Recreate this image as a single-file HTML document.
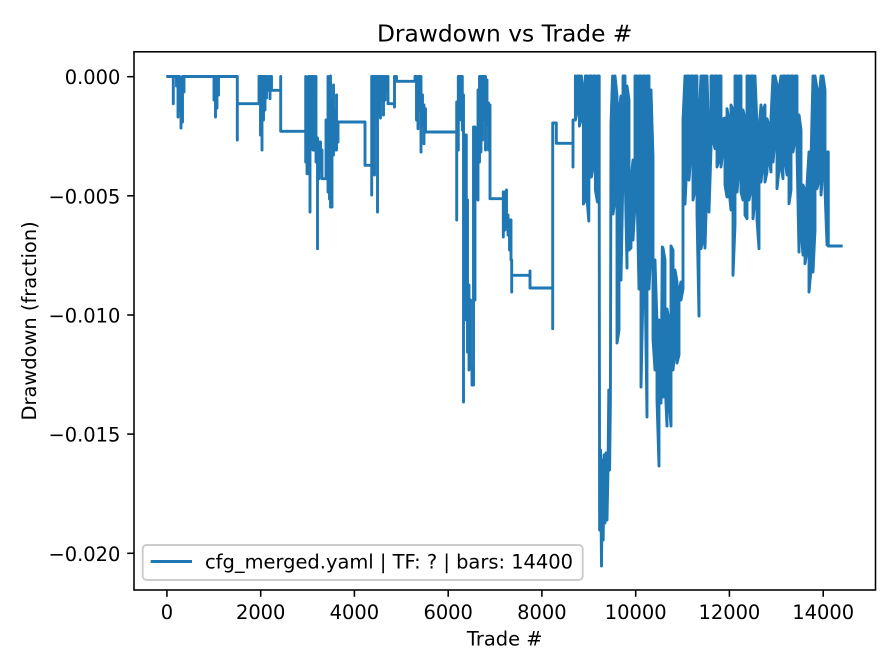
<!DOCTYPE html>
<html>
<head>
<meta charset="utf-8">
<style>
  html, body { margin: 0; padding: 0; background: #ffffff; }
  svg { display: block; }
  text { font-family: "DejaVu Sans", "Liberation Sans", sans-serif; fill: #000; }
</style>
</head>
<body>
<svg width="896" height="672" viewBox="0 0 896 672" xmlns="http://www.w3.org/2000/svg">
  <rect x="0" y="0" width="896" height="672" fill="#ffffff"/>

  <!-- data series -->
  <path fill="none" stroke="#1f77b4" stroke-width="2.9" stroke-linejoin="round" stroke-linecap="butt"
    d="M166.3,76.5 H173.3 V103.7 V76.5 H176.5 V86 V76.5 H178 V117 V76.5 H179.5 V110 V78 H181 V128 V80 H182.5 V122 V76.5 H184 V92 V76.5 H214 V100 V76.5 H215.5 V117 V78 H217 V108 V76.5 H218.5 V95 V76.5 H237.3 V140 V103.7 H259 V76.5 H260.5 V135 V76.5 H262 V150 V85 H263.5 V120 V76.5 H265 V110 V76.5 H266.5 V98 V90.3 H268.5 V76.5 V90.3 H270 V98.7 V76.5 V90.3 H271.5 V76.5 V90.3 H280.7 V76.5 V131.3 H305.7
    V76.5 V162 H307 V153 V173.7 H308.5 V128 V76.5 H310 V212 V125 H311.5 V148 V76.5 H313 V80 V150 H314.5 V132 V76.5 H316 V162 V138 H317.5 V248.7 V142 H319 V178.7 V142 H320.5 V170 V150 H322 V178.7 H326 V120 V178.7 H328 V76.5 V192 H329.5 V100 V199 H330.5 V76 V207 H332 V100 V155 H333.5 V85 V140 H335 V110 V150 H336.5 V95 V142 H338 V122 H365 V165.3 H371.7
    V195 V76.5 H373 V142 V76.5 H374.5 V175 V80 H376 V120 V76.5 H377.5 V212 V90 H379 V115 V76.5 H380.5 V118 V76.5 H382 V100 V76.5 H383.5 V115 V80 H385 V100 V76.5 H386.5 V92 V76.5 H388 V103.7 H394.5 V107 V76.5 H396.5 V81.3 H415 V76.5 H416.5 V120 V76.5 H418 V128.7 V82 H419.5 V110 V76.5 H421 V152 V95 H422.5 V125 V105 H424 V143.7 V108.7 H425.5 V132 H456.7
    V220 V102 H458.3 V150 V76.5 H459.5 V120 V76.5 H461 V115 V76.5 H462.3 V130 V95 H463.5 V402 V140 H465 V300 V135 H466.3 V320 V200 H467.5 V352 V285 H469 V370 V300 H470.5 V368 H472 V385 H473.5 V127 H475 V300 V130 H476.5 V198.7 V128.7 H478 V200 V90 H479.5 V162 V76.5 H481 V152 V76.5 H482.5 V140 V76.5 H484 V120 V76.5 H485.5 V150 V80 H487 V125 V103 H488.5 V150 V105 H490 V198.7 H503.3
    V237 V192 H505 V230 V200 H506.5 V190 V227 H508 V215 V235 H509.5 V250 V220 H511 V260 H511.7 V292 V275.3 H530 V271 V288 H552.7 V328.7 V123 H556.3 V143.3 H573 V167 V120 H575.4 V76
    L575.4,120 L577.4,110 L577.4,76 L579.4,76 L579.4,126 L581.4,118 L581.4,76 L583.4,90 L583.4,204 L585.4,200 L585.4,76 L587.4,76 L587.4,203 L588.8,221 L589.4,76 L591.4,76 L591.4,177 L593.4,165 L593.4,76 L595.4,76 L595.4,190 L597.4,202 L597.4,76 L599.2,76 L599.2,180 L599.6,530 L600.5,450 L601.5,566 L602.5,460 L603.2,540 L604,455 L605,523 L606,453 L607,520 L608,470 L608.8,390 L609.6,470 L610.4,400 L611,123 L612.6,76 L613,214 L615,200 L615,76 L617,96 L617,343 L619,330 L619,110 L621,96 L621,280 L623,170 L623,76 L625,76 L625,165 L627,268 L627,86 L629,100 L629,250 L631,248 L631,180 L633,160 L633,240 L635,204 L635,76 L637,76 L637,190 L639,289 L639,76 L641,76 L641,387 L643,289 L643,76 L645,76 L645,270 L647,417 L647,76 L649,76 L649,289 L651,250 L651,90 L653,157 L653,339 L655,370 L655,260 L657,323 L657,400 L659,466 L659,320 L661,330 L661,403 L662.3,247 L663,397 L663,248 L665,260 L665,380 L667,426 L667,309 L669,320 L669,400 L671,426 L671,246 L673,250 L673,370 L675,350 L675,270 L677,282 L677,363 L679,355 L679,290 L681,282 L681,300 L683,289 L683,120 L685,76 L685,204 L687,160 L687,76 L689,76 L689,180 L691,153 L691,76 L693,76 L693,200 L695,190 L695,76 L697,76 L697,214 L699,316 L699,120 L701,76 L701,248.7
    L703,240 L703,76 L705,76 L705,248 L707,180 L707,76 L709,145 L709,212 L711,148.7 L711,76 L713,76 L713,140 L715,148.7 L715,76 L717,76 L717,167 L719,160 L719,76 L721,76 L721,167 L723,150 L723,118.7 L725,118 L725,185 L727,197 L727,108.7 L729,120 L729,190 L731,210 L731,105 L733,110 L733,275.3 L735,225 L735,76 L737,76 L737,192 L739,170 L739,76 L741,76 L741,192 L743,200 L743,110 L745,118.7 L745,215 L747,218.7 L747,76 L749,76 L749,200 L751,190 L751,76 L753,76 L753,218.7 L755,200 L755,76 L757,125 L757,220 L759,248.7 L759,130 L761,105 L761,182 L763,165 L763,110 L765,105 L765,182 L767,172 L767,118.7 L769,125 L769,160 L771,172 L771,118 L773,76 L773,162 L775,140 L775,76 L777,85 L777,188.7 L779,170 L779,90 L781,76 L781,165 L783,178.7 L783,76 L785,76 L785,158.7 L787,175 L787,76 L789,76 L789,203.7 L791,190 L791,76 L793,76 L793,152 L795,140 L795,76 L797,76 L797,152 L799,252 L799,115 L801,130 L801,230 L803,255 L803,185 L805,190 L805,263.7 L807,250 L807,185 L809,152 L809,292 L811,270 L811,160 L813,76 L813,272 L815,230 L815,76 L817,88.7 L817,188.7 L819,180 L819,100 L821,76 L821,195 L823,170 L823,76 L825,90 L825,190 L827,245 L827,152 L828.3,152 L828.3,246 H842.7"/>

  <!-- axes frame -->
  <rect x="134" y="51.8" width="741.5" height="538.2" fill="none" stroke="#000" stroke-width="1.56"/>

  <!-- x ticks -->
  <g stroke="#000" stroke-width="1.56">
    <line x1="166.9" y1="590" x2="166.9" y2="596.8"/>
    <line x1="260.7" y1="590" x2="260.7" y2="596.8"/>
    <line x1="354.4" y1="590" x2="354.4" y2="596.8"/>
    <line x1="448.2" y1="590" x2="448.2" y2="596.8"/>
    <line x1="541.9" y1="590" x2="541.9" y2="596.8"/>
    <line x1="635.7" y1="590" x2="635.7" y2="596.8"/>
    <line x1="729.4" y1="590" x2="729.4" y2="596.8"/>
    <line x1="823.2" y1="590" x2="823.2" y2="596.8"/>
  </g>
  <g font-size="19.44" text-anchor="middle">
    <text x="166.9" y="619">0</text>
    <text x="260.7" y="619">2000</text>
    <text x="354.4" y="619">4000</text>
    <text x="448.2" y="619">6000</text>
    <text x="541.9" y="619">8000</text>
    <text x="635.7" y="619">10000</text>
    <text x="729.4" y="619">12000</text>
    <text x="823.2" y="619">14000</text>
  </g>

  <!-- y ticks -->
  <g stroke="#000" stroke-width="1.56">
    <line x1="127.2" y1="76.7" x2="134" y2="76.7"/>
    <line x1="127.2" y1="195.8" x2="134" y2="195.8"/>
    <line x1="127.2" y1="315" x2="134" y2="315"/>
    <line x1="127.2" y1="434.1" x2="134" y2="434.1"/>
    <line x1="127.2" y1="553.3" x2="134" y2="553.3"/>
  </g>
  <g font-size="19.44" text-anchor="end">
    <text x="120.4" y="84.2">0.000</text>
    <text x="120.4" y="203.3">−0.005</text>
    <text x="120.4" y="322.5">−0.010</text>
    <text x="120.4" y="441.6">−0.015</text>
    <text x="120.4" y="560.8">−0.020</text>
  </g>

  <!-- labels -->
  <text x="504.7" y="41.5" font-size="23.33" text-anchor="middle">Drawdown vs Trade #</text>
  <text x="504.7" y="645.7" font-size="19.44" text-anchor="middle">Trade #</text>
  <text transform="translate(35.9,320.9) rotate(-90)" font-size="19.44" text-anchor="middle">Drawdown (fraction)</text>

  <!-- legend -->
  <rect x="142.7" y="545" width="440" height="35" rx="3.9" ry="3.9" fill="#ffffff" fill-opacity="0.8" stroke="#cccccc" stroke-width="1.9"/>
  <line x1="150.7" y1="561.5" x2="192" y2="561.5" stroke="#1f77b4" stroke-width="2.9"/>
  <text x="205" y="568.3" font-size="19.44">cfg_merged.yaml | TF: ? | bars: 14400</text>
</svg>
</body>
</html>
